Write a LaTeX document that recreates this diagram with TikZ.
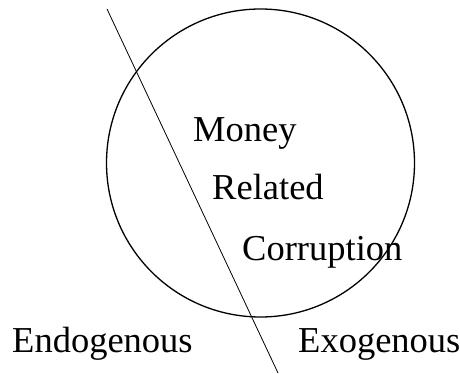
\documentclass[tikz,border=0pt]{standalone}
\usepackage{fontspec}
\setmainfont{Liberation Serif}
\tikzset{lbl/.style={anchor=base west,inner sep=0pt,font=\fontsize{36.5}{40}\selectfont}}
\begin{document}
\begin{tikzpicture}[x=1pt,y=-1pt]
\useasboundingbox (0,0) rectangle (460,374);
\draw[line width=1.3pt] (260.5,163) circle[radius=154];
\coordinate (top) at (107,9);
\coordinate (bot) at (278,373);
\draw[line width=0.8pt] (top) -- (bot);
\node[lbl] (money) at (193,141.7) {Money};
\node[lbl] (related) at (212,200) {Related};
\node[lbl] (corr) at (242,260) {Corruption};
\node[lbl] (endo) at (12,352) {Endogenous};
\node[lbl] (exo) at (298,352) {Exogenous};
\end{tikzpicture}
\end{document}
